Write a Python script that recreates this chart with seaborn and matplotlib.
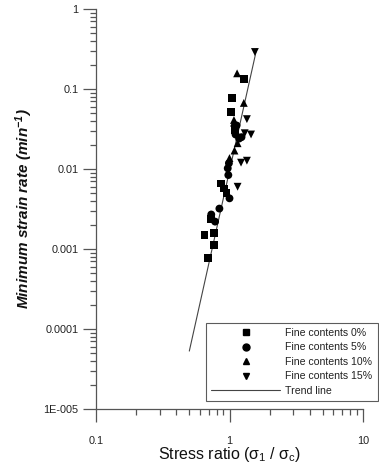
import numpy as np
import pandas as pd
import matplotlib
matplotlib.use("Agg")
import matplotlib.pyplot as plt
import seaborn as sns
from matplotlib.ticker import LogLocator, FixedLocator, FixedFormatter, NullFormatter
from matplotlib.lines import Line2D

# ---- data ----
x_fc0 = [1.29, 1.05, 1.02, 0.87, 0.91, 0.95, 0.73, 0.65, 0.76, 0.76, 0.69, 1.10]
y_fc0 = [0.133, 0.078, 0.052, 0.0066, 0.0057, 0.0050, 0.0024, 0.0015, 0.0016, 0.00112, 0.00077, 0.031]

x_fc5 = [1.10, 1.11, 1.23, 1.18, 0.99, 0.97, 0.98, 1.00, 0.84, 0.73, 0.78, 1.13]
y_fc5 = [0.029, 0.027, 0.025, 0.024, 0.0118, 0.0102, 0.0084, 0.0043, 0.0032, 0.0027, 0.0022, 0.035]

x_fc10 = [1.14, 1.28, 1.08, 1.08, 1.15, 1.09, 1.00]
y_fc10 = [0.157, 0.067, 0.041, 0.038, 0.021, 0.017, 0.0137]

x_fc15 = [1.55, 1.35, 1.30, 1.45, 1.22, 1.35, 1.15]
y_fc15 = [0.29, 0.042, 0.028, 0.027, 0.012, 0.0127, 0.006]

trend_x = [0.5, 1.6]
trend_y = [5.3e-5, 0.32]

groups = ["Fine contents 0%", "Fine contents 5%", "Fine contents 10%", "Fine contents 15%"]
y_ticks = [1e-5, 1e-4, 1e-3, 1e-2, 1e-1, 1]
y_tick_labels = ["1E-005", "0.0001", "0.001", "0.01", "0.1", "1"]
x_ticks = [0.1, 1, 10]
x_tick_labels = ["0.1", "1", "10"]

df = pd.DataFrame({
    "x": x_fc0 + x_fc5 + x_fc10 + x_fc15,
    "y": y_fc0 + y_fc5 + y_fc10 + y_fc15,
    "group": [groups[0]] * len(x_fc0) + [groups[1]] * len(x_fc5)
             + [groups[2]] * len(x_fc10) + [groups[3]] * len(x_fc15),
})
trend = pd.DataFrame({"x": trend_x, "y": trend_y})

sns.set_theme(style="white")
plt.rcParams["font.family"] = ["Liberation Sans", "DejaVu Sans"]
plt.rcParams["mathtext.fontset"] = "custom"
plt.rcParams["mathtext.rm"] = "Liberation Sans"
plt.rcParams["mathtext.it"] = "Liberation Sans:italic"
plt.rcParams["mathtext.bf"] = "Liberation Sans:bold:italic"
plt.rcParams["mathtext.default"] = "rm"

fig = plt.figure(figsize=(3.79, 4.65), dpi=100)
ax = fig.add_axes([96 / 379, 1 - 409 / 465, (363 - 96) / 379, (409 - 9) / 465])

markers = {groups[0]: "s", groups[1]: "o", groups[2]: "^", groups[3]: "v"}
palette = {g: "black" for g in groups}
sns.scatterplot(data=df, x="x", y="y", hue="group", style="group",
                markers=markers, palette=palette, hue_order=groups, style_order=groups,
                s=32, edgecolor="none", linewidth=0, ax=ax, legend=False, zorder=3)
sns.lineplot(data=trend, x="x", y="y", color="#444444", linewidth=0.8, ax=ax,
             estimator=None, sort=False, zorder=2)

ax.set_xscale("log")
ax.set_yscale("log")
ax.set_xlim(0.1, 10)
ax.set_ylim(1e-5, 1)

ax.yaxis.set_major_locator(FixedLocator(y_ticks))
ax.yaxis.set_major_formatter(FixedFormatter(y_tick_labels))
ax.xaxis.set_major_locator(FixedLocator(x_ticks))
ax.xaxis.set_major_formatter(FixedFormatter(x_tick_labels))
ax.yaxis.set_minor_locator(LogLocator(base=10, subs=np.arange(2, 10), numticks=20))
ax.xaxis.set_minor_locator(LogLocator(base=10, subs=np.arange(2, 10), numticks=20))
ax.yaxis.set_minor_formatter(NullFormatter())
ax.xaxis.set_minor_formatter(NullFormatter())

spine_c = "#555555"
for s in ["top", "right"]:
    ax.spines[s].set_visible(False)
for s in ["left", "bottom"]:
    ax.spines[s].set_color(spine_c)
    ax.spines[s].set_linewidth(0.9)

ax.tick_params(which="major", direction="out", length=9.5, width=0.9, color=spine_c,
               labelsize=7.8, labelcolor="#222222", left=True, bottom=True)
ax.tick_params(which="minor", direction="out", length=4.3, width=0.9, color=spine_c,
               left=True, bottom=True)
ax.tick_params(axis="y", which="major", pad=3)
ax.tick_params(axis="x", which="major", pad=10)

ax.set_xlabel("Stress ratio (σ$_{1}$ / σ$_{c}$)", fontsize=11.5, color="#111111")
ax.xaxis.label.set_va("center")
ax.xaxis.set_label_coords(0.5, (409 - 455) / 400)
ax.set_ylabel(r"Minimum strain rate (min$^{\mathbf{-1}}$)", fontsize=11,
              fontweight="bold", fontstyle="italic", labelpad=6, color="#111111")

# legend
handles = [Line2D([], [], linestyle="none", marker=markers[g], color="black",
                  markersize=5) for g in groups]
handles.append(Line2D([], [], color="#444444", linewidth=0.8))
labels = groups + ["Trend line"]
leg = fig.legend(handles, labels, loc="lower left",
                 bbox_to_anchor=(206 / 379, 1 - 401 / 465),
                 bbox_transform=fig.transFigure,
                 frameon=True, fancybox=False, fontsize=7.6,
                 handlelength=6.5, handletextpad=0.5, labelspacing=0.42,
                 borderpad=0.5, borderaxespad=0)
leg.get_frame().set_edgecolor("#333333")
leg.get_frame().set_linewidth(0.8)
for t in leg.get_texts():
    t.set_color("#222222")

fig.savefig("out.png", dpi=100)
